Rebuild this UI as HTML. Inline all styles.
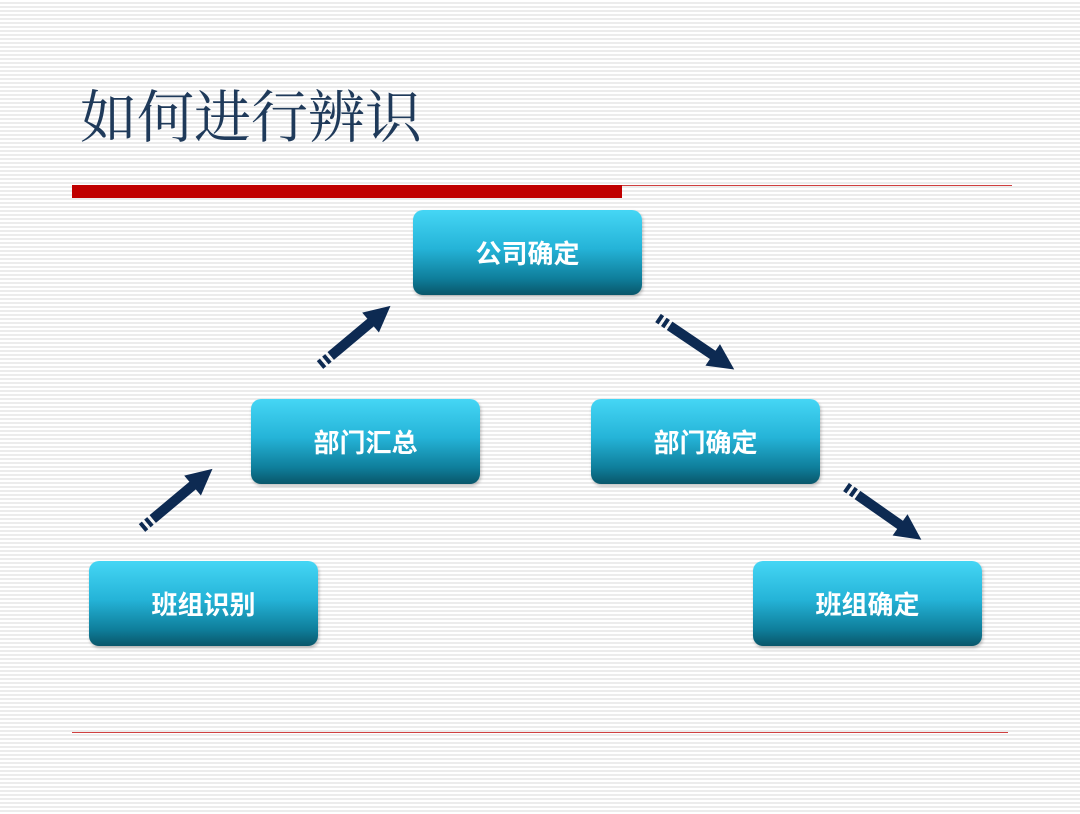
<!DOCTYPE html>
<html><head><meta charset="utf-8"><style>
body{margin:0;width:1080px;height:814px;overflow:hidden;position:relative;
background:repeating-linear-gradient(to bottom,#fff 0,#fff 2px,#ececec 2px,#ececec 4px);}
.t{position:absolute;left:80px;top:72px;font:57px "Liberation Serif","Noto Serif CJK SC",serif;color:#1f3a5a;}
.b{position:absolute;width:229px;height:85px;border-radius:10px;
background:linear-gradient(to bottom,#45d6f5 0%,#25b4d8 45%,#0f7f9c 80%,#09566a 100%);
color:#fff;font:bold 26px "Liberation Sans","Noto Sans CJK SC",sans-serif;display:flex;align-items:center;justify-content:center;
box-shadow:1px 2px 3px rgba(0,0,0,.25);}
</style></head><body>
<div class="t">如何进行辨识</div>
<div style="position:absolute;left:72px;top:185px;width:550px;height:13px;background:#c00000"></div>
<div style="position:absolute;left:622px;top:185px;width:390px;height:1px;background:#d04040"></div>
<div style="position:absolute;left:72px;top:732px;width:936px;height:1px;background:#d04040"></div>
<div class="b" style="left:413px;top:210px">公司确定</div>
<div class="b" style="left:251px;top:399px">部门汇总</div>
<div class="b" style="left:591px;top:399px">部门确定</div>
<div class="b" style="left:89px;top:561px">班组识别</div>
<div class="b" style="left:753px;top:561px">班组确定</div>
<svg width="1080" height="814" style="position:absolute;left:0;top:0">
<defs><g id="ar">
<rect x="0" y="-5" width="4" height="10" fill="#0d2a52"/>
<rect x="7" y="-5" width="4" height="10" fill="#0d2a52"/>
<rect x="14" y="-5" width="60" height="10" fill="#0d2a52"/>
<polygon points="66,-13 92,0 66,13" fill="#0d2a52"/>
</g></defs>
<use href="#ar" transform="translate(320,365) rotate(-40)"/>
<use href="#ar" transform="translate(142,528) rotate(-40)"/>
<use href="#ar" transform="translate(658,318) rotate(34)"/>
<use href="#ar" transform="translate(846,487) rotate(35)"/>
</svg>
</body></html>
